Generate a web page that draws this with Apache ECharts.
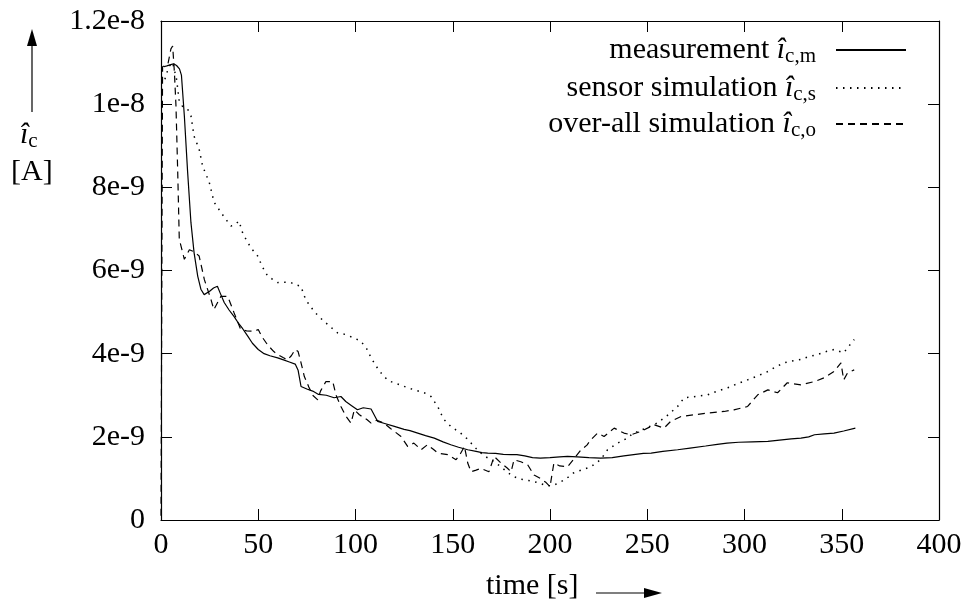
<!DOCTYPE html>
<html>
<head>
<meta charset="utf-8">
<script src="https://cdn.jsdelivr.net/npm/echarts@6/dist/echarts.min.js"></script>
<style>
  html, body { margin: 0; padding: 0; background: #fff; }
  #chart { width: 968px; height: 603px; }
</style>
</head>
<body>
<div id="chart"></div>
<script>
// values in units of 1e-9 A, time in s
const xTicks = [0, 50, 100, 150, 200, 250, 300, 350, 400]
const yTickLabels = ['0', '2e-9', '4e-9', '6e-9', '8e-9', '1e-8', '1.2e-8']

const measurement = [
  [1.5, 10.9], [3, 10.92], [5, 10.95], [6.5, 10.97], [8, 10.93], [9.5, 10.85], [10.5, 10.7],
  [12, 9.72], [13.7, 8.36], [15.4, 7.15], [17, 6.43], [18.9, 5.86], [20.5, 5.55], [22.2, 5.42],
  [25, 5.5], [27, 5.58], [29, 5.62], [30.5, 5.45], [32.5, 5.23], [35, 5.05], [37.6, 4.89],
  [40, 4.72], [42, 4.6], [44.6, 4.42], [47, 4.25], [50, 4.1], [53, 4.0], [56, 3.95], [60, 3.9],
  [63, 3.85], [66, 3.8], [69, 3.75], [70.5, 3.6], [72, 3.21], [75, 3.15], [78, 3.1], [81, 3.02],
  [85, 3.0], [89, 2.94], [92.5, 2.97], [95, 2.85], [98, 2.75], [101, 2.65], [104, 2.7], [108, 2.67],
  [111.4, 2.37], [115, 2.32], [120, 2.25], [125, 2.18], [128, 2.15], [132, 2.09], [136, 2.03],
  [140.5, 1.97], [145, 1.88], [149, 1.81], [153, 1.75], [157.7, 1.69], [162, 1.65], [165, 1.62],
  [168, 1.61], [172, 1.6], [176, 1.58], [180, 1.57], [183, 1.57], [187, 1.54], [191, 1.5],
  [195, 1.49], [200, 1.5], [205, 1.52], [209, 1.53], [214, 1.52], [220, 1.5], [226, 1.49],
  [232, 1.5], [238, 1.54], [243, 1.57], [248, 1.6], [252, 1.61], [258, 1.65], [265.6, 1.69],
  [272, 1.73], [280, 1.78], [286, 1.82], [291, 1.85], [297, 1.87], [304, 1.88], [312, 1.89],
  [318, 1.92], [324, 1.95], [329, 1.97], [333, 2.0], [336, 2.05], [341, 2.07], [346, 2.09],
  [351, 2.14], [357, 2.21]
]

const sensorSim = [
  [2, 10.6], [4, 10.9], [6, 11.0], [8, 10.6], [9.3, 10.1], [11, 9.95], [13.7, 9.88], [15.4, 9.72],
  [17, 9.23], [19.6, 8.92], [21.4, 8.51], [24.8, 8.12], [27.3, 7.64], [30.8, 7.4], [33, 7.25],
  [36, 7.07], [38, 7.1], [40.1, 7.19], [42, 6.9], [44.6, 6.67], [47, 6.5], [49.7, 6.35], [52, 6.1],
  [54.9, 5.86], [57, 5.8], [60, 5.71], [63, 5.72], [66.8, 5.71], [69, 5.66], [72, 5.62], [73.5, 5.4],
  [75.4, 5.23], [78.7, 5.02], [81, 4.9], [83.8, 4.78], [87, 4.65], [90.8, 4.5], [95, 4.46], [98, 4.4],
  [102.8, 4.3], [106, 4.1], [108, 3.9], [109.6, 3.78], [112, 3.6], [114.7, 3.45], [117, 3.35],
  [119.8, 3.3], [123, 3.25], [126.8, 3.18], [131, 3.12], [135.3, 3.06], [138.8, 2.97], [140.5, 2.85],
  [142.3, 2.73], [144, 2.55], [145.6, 2.41], [149, 2.25], [154, 2.09], [157, 1.97], [159.4, 1.85],
  [162, 1.72], [164.5, 1.61], [167, 1.52], [169.7, 1.45], [174.8, 1.28], [178, 1.15], [181.5, 1.04],
  [185, 0.98], [189, 0.95], [192, 0.92], [195, 0.88], [198, 0.83], [201, 0.82], [204, 0.88],
  [208, 0.98], [212, 1.13], [216, 1.2], [221, 1.28], [226, 1.45], [229.6, 1.69], [234.8, 1.85],
  [239, 1.95], [243, 2.09], [249, 2.2], [255, 2.33], [260, 2.5], [265.6, 2.73], [269, 2.94],
  [275, 2.97], [281, 3.01], [286, 3.1], [291.4, 3.18], [296, 3.27], [301.6, 3.37], [307, 3.47],
  [312, 3.57], [316, 3.68], [320.4, 3.78], [324, 3.82], [329, 3.86], [333, 3.93], [337.6, 3.98],
  [342, 4.05], [346, 4.1], [351, 4.02], [354, 4.2], [356.4, 4.34]
]

const overallSim = [
  [0, 0.1], [0.8, 10.9], [1.7, 10.92], [3.5, 10.95], [5.1, 11.33], [6, 11.4], [6.9, 10.76],
  [7.7, 9.96], [8.6, 8.36], [9.4, 6.75], [12, 6.27], [14.6, 6.5], [17, 6.45], [19.6, 6.35],
  [22.3, 5.78], [25.7, 5.3], [27.2, 5.06], [30.8, 5.38], [34.3, 5.38], [37.6, 4.98], [41, 4.58],
  [44, 4.55], [48, 4.54], [50, 4.58], [52, 4.4], [55, 4.2], [58, 4.05], [60, 3.98], [63, 3.9],
  [65, 3.85], [67, 3.95], [69, 4.1], [70.5, 4.05], [72, 3.78], [73.7, 3.45], [76, 3.2], [78, 3.0],
  [80.6, 2.89], [82, 3.1], [84.8, 3.33], [88.3, 3.33], [90, 3.0], [92.5, 2.73], [95, 2.5],
  [97.7, 2.33], [99.4, 2.65], [102, 2.53], [106, 2.41], [108, 2.33], [111, 2.4], [114.7, 2.33],
  [118, 2.2], [123.4, 2.01], [126.8, 1.77], [130, 1.85], [133.7, 1.69], [137, 1.81], [140, 1.7],
  [142.3, 1.61], [147.4, 1.57], [151.7, 1.45], [154, 1.6], [156, 1.77], [157.7, 1.37], [159.4, 1.16],
  [162, 1.2], [164.5, 1.24], [168.6, 1.16], [171.3, 1.53], [174.8, 1.37], [178, 1.25], [180, 1.16],
  [181.5, 1.45], [185, 1.4], [188.5, 1.33], [191.8, 1.08], [195, 1.0], [198, 0.9], [200, 0.8],
  [202, 1.37], [205, 1.3], [209, 1.28], [212, 1.45], [216, 1.69], [219, 1.8], [221, 1.93],
  [224.5, 2.09], [227.8, 2.01], [233, 2.21], [238, 2.09], [241.6, 2.05], [246.8, 2.13],
  [253.5, 2.29], [258.6, 2.21], [262, 2.37], [267.4, 2.49], [274, 2.53], [281, 2.57], [289.5, 2.61],
  [294.6, 2.65], [301.6, 2.73], [306.8, 3.01], [312, 3.13], [317, 3.06], [322, 3.3], [329, 3.25],
  [336, 3.33], [341, 3.42], [346, 3.57], [349.6, 3.78], [351, 3.37], [353, 3.54], [356.4, 3.61]
]

const seriesNames = ['measurement', 'sensor simulation', 'over-all simulation']
const seriesSubs = ['c,m', 'c,s', 'c,o']

const FONT = 'Liberation Serif'
const chart = echarts.init(document.getElementById('chart'))

const richText = {
  n: { fontFamily: FONT, fontSize: 30, color: '#000' },
  i: { fontFamily: FONT, fontSize: 30, fontStyle: 'italic', color: '#000' },
  s: { fontFamily: FONT, fontSize: 21, color: '#000', padding: [12, 0, 0, 0] }
}

function makeLegend(idx, top) {
  return {
    data: [seriesNames[idx]],
    right: 61,
    top: top,
    orient: 'vertical',
    align: 'right',
    itemWidth: 70,
    itemHeight: 14,
    padding: 0,
    selectedMode: false,
    itemStyle: { opacity: 0 },
    formatter: function (name) {
      const k = seriesNames.indexOf(name)
      return '{n|' + name + ' }{i|\u00ee}{s|' + seriesSubs[k] + '}{n|  }'
    },
    textStyle: { rich: richText }
  }
}

const tickCommon = { show: true, inside: true, length: 11, lineStyle: { color: '#000', width: 1 } }
const lineCommon = { show: true, onZero: false, lineStyle: { color: '#000', width: 1.2 } }

chart.setOption({
  backgroundColor: '#fff',
  animation: false,
  grid: { left: 161, right: 29, top: 21, bottom: 83 },
  legend: [makeLegend(0, 35), makeLegend(1, 73), makeLegend(2, 109)],
  xAxis: [{
    type: 'value', min: 0, max: 400, interval: 50, position: 'bottom',
    axisLine: lineCommon, axisTick: tickCommon, splitLine: { show: false },
    axisLabel: { fontFamily: FONT, fontSize: 30, color: '#000', margin: 10 }
  }, {
    type: 'value', min: 0, max: 400, interval: 50, position: 'top',
    axisLine: lineCommon, axisTick: tickCommon, splitLine: { show: false },
    axisLabel: { show: false }
  }],
  yAxis: [{
    type: 'value', min: 0, max: 12, interval: 2, position: 'left',
    axisLine: lineCommon, axisTick: tickCommon, splitLine: { show: false },
    axisLabel: {
      fontFamily: FONT, fontSize: 30, color: '#000', margin: 16,
      formatter: function (v) { return yTickLabels[Math.round(v / 2)] }
    }
  }, {
    type: 'value', min: 0, max: 12, interval: 2, position: 'right',
    axisLine: lineCommon, axisTick: tickCommon, splitLine: { show: false },
    axisLabel: { show: false }
  }],
  series: [{
    name: seriesNames[0], type: 'line', data: measurement, symbol: 'none',
    lineStyle: { color: '#000', width: 1.2, type: 'solid' }, itemStyle: { color: '#000' }
  }, {
    name: seriesNames[1], type: 'line', data: sensorSim, symbol: 'none',
    lineStyle: { color: '#000', width: 1.5, type: [1.5, 5.5] }, itemStyle: { color: '#000' }
  }, {
    name: seriesNames[2], type: 'line', data: overallSim, symbol: 'none',
    lineStyle: { color: '#000', width: 1.2, type: [7, 5] }, itemStyle: { color: '#000' }
  }],
  graphic: [
    // y axis label with arrow
    { type: 'line', shape: { x1: 32, y1: 112, x2: 32, y2: 44 }, style: { stroke: '#000', lineWidth: 1.2 } },
    { type: 'polygon', shape: { points: [[32, 29], [27, 46], [37, 46]] }, style: { fill: '#000' } },
    {
      type: 'text', left: 20, top: 120,
      style: { text: '{i|\u00ee}{s|c}', rich: richText }
    },
    {
      type: 'text', left: 11, top: 157,
      style: { text: '[A]', fontFamily: FONT, fontSize: 30, fill: '#000' }
    },
    // x axis label with arrow
    {
      type: 'text', left: 486, top: 571,
      style: { text: 'time [s]', fontFamily: FONT, fontSize: 30, fill: '#000' }
    },
    { type: 'line', shape: { x1: 596, y1: 593, x2: 645, y2: 593 }, style: { stroke: '#000', lineWidth: 1.2 } },
    { type: 'polygon', shape: { points: [[662, 593], [644, 588], [644, 598]] }, style: { fill: '#000' } }
  ]
})
</script>
</body>
</html>
